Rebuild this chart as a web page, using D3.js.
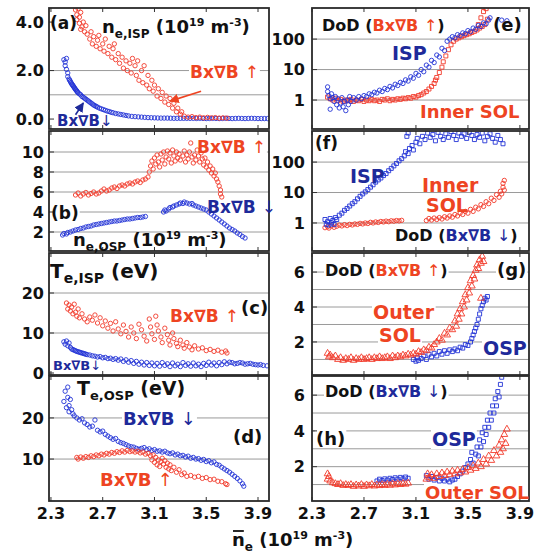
<!DOCTYPE html>
<html><head><meta charset="utf-8">
<script src="https://cdn.jsdelivr.net/npm/d3@7"></script>
<style>body{margin:0;background:#fff}text{font-family:"DejaVu Sans",sans-serif;font-weight:bold}</style>
</head><body><svg id="c" width="545" height="553"></svg>
<script>
// ---------- DATA (ne in 1e19 m^-3, value) ----------
const xTicks = [2.3, 2.7, 3.1, 3.5, 3.9];
const aRed = [[2.49,4.5],[2.50,4.3],[2.51,4.55],[2.50,4.1],[2.52,3.95],[2.53,4.4],[2.52,4.2],[2.54,3.8],[2.55,4.0],[2.53,3.7],[2.56,3.6],[2.57,3.85],
[2.58,3.5],[2.60,3.3],[2.61,3.6],[2.62,3.1],[2.63,3.4],[2.65,3.0],[2.66,3.25],[2.68,2.9],[2.67,3.45],
[2.70,3.1],[2.71,2.8],[2.72,3.3],[2.74,2.7],[2.75,3.0],[2.77,2.55],[2.78,2.9],[2.80,2.45],[2.79,3.1],
[2.82,2.7],[2.83,2.3],[2.85,2.55],[2.86,2.1],[2.88,2.4],[2.89,2.0],[2.91,2.3],[2.92,1.9],[2.93,2.5],
[2.95,2.2],[2.96,1.8],[2.97,2.4],[2.98,1.6],[3.00,2.0],[3.01,1.5],[3.02,2.2],[3.04,1.4],[3.05,1.8],[3.06,1.25],
[3.08,1.6],[3.09,1.15],[3.10,1.4],[3.12,0.95],[3.13,1.25],[3.15,0.85],[3.16,1.1],[3.18,0.7],[3.19,0.95],
[3.21,0.6],[3.22,0.85],[3.24,0.45],[3.25,0.65],[3.27,0.3],[3.28,0.45],[3.30,0.2],[3.31,0.3],
[3.33,0.12],[3.36,0.08],[3.39,0.1],[3.42,0.06],[3.45,0.08],[3.48,0.05],[3.51,0.07],[3.54,0.05],[3.57,0.06],[3.60,0.04],[3.63,0.05],[3.66,0.04]];
const aBlue = [[2.40,2.45],[2.41,2.35],[2.42,2.5],[2.41,2.2],[2.42,2.05],[2.43,1.9],[2.43,1.75],[2.44,1.65],[2.445,1.6],[2.45,1.55],[2.455,1.5],[2.46,1.45],[2.465,1.42],[2.47,1.38],[2.475,1.34],[2.48,1.3],[2.485,1.26],[2.49,1.22],[2.495,1.19],[2.50,1.15],[2.505,1.12],[2.51,1.08],[2.52,1.04],[2.53,1.0],[2.54,0.93],[2.55,0.9],[2.56,0.86],[2.57,0.82],[2.58,0.78],[2.59,0.74],[2.60,0.7],[2.61,0.66],[2.62,0.62],[2.63,0.58],[2.64,0.55],[2.65,0.52],[2.66,0.49],[2.675,0.45],[2.69,0.42],[2.705,0.39],[2.72,0.36],[2.735,0.33],[2.75,0.31],[2.765,0.28],[2.78,0.26],[2.80,0.23],[2.82,0.21],[2.84,0.19],[2.86,0.17],[2.88,0.15],[2.90,0.13],[2.925,0.11],[2.95,0.1],[2.975,0.09],[3.00,0.08],[3.025,0.07],[3.05,0.06],[3.075,0.055],[3.10,0.05],[3.125,0.045],[3.15,0.04],[3.175,0.04],[3.20,0.04],[3.225,0.035],[3.25,0.03],[3.275,0.03],[3.30,0.03],[3.325,0.03],[3.35,0.03],[3.375,0.03],[3.40,0.03],[3.425,0.025],[3.45,0.03],[3.475,0.025],[3.50,0.02],[3.525,0.025],[3.55,0.03],[3.575,0.025],[3.60,0.02],[3.625,0.025],[3.65,0.03],[3.675,0.025],[3.70,0.02],[3.725,0.025],[3.75,0.03],[3.775,0.025],[3.80,0.02],[3.825,0.025],[3.85,0.03],[3.875,0.025],[3.90,0.02],[3.925,0.02],[3.95,0.02],[3.975,0.02]];
const bRed = [[2.49,5.7],[2.51,5.9],[2.53,5.6],[2.55,5.8],[2.57,5.95],[2.59,5.7],[2.61,5.85],[2.63,6.0],[2.65,5.8],[2.67,5.9],[2.69,6.1],[2.71,6.3],[2.73,6.1],[2.75,6.2],[2.77,6.4],[2.79,6.5],[2.81,6.35],[2.83,6.6],[2.85,6.7],[2.87,6.6],[2.89,6.8],[2.91,6.9],[2.93,6.8],[2.95,7.0],[2.97,7.1],[2.99,6.95],[3.01,7.2],[3.03,7.3],[3.05,7.5],
[3.06,8.0],[3.07,8.6],[3.08,9.1],[3.09,8.3],[3.10,9.4],[3.11,8.8],[3.12,9.7],[3.13,9.0],[3.14,8.5],[3.15,9.8],[3.16,9.2],[3.17,10.0],[3.18,8.8],[3.19,9.5],[3.20,10.1],[3.21,9.3],[3.22,9.9],[3.23,8.9],[3.24,10.2],[3.25,9.6],[3.26,9.1],[3.27,10.0],[3.28,9.4],[3.29,9.8],[3.30,9.2],[3.32,9.6],[3.33,10.1],[3.34,9.0],[3.35,9.7],[3.36,9.3],[3.37,10.0],[3.38,10.9],[3.39,9.5],[3.40,8.9],[3.41,9.7],[3.42,9.2],[3.43,10.2],[3.44,9.6],[3.45,9.0],[3.46,9.9],[3.47,9.3],[3.48,8.7],[3.49,9.4],[3.50,8.5],[3.51,9.0],[3.52,8.2],[3.53,8.6],[3.54,7.9],[3.55,8.3],[3.56,7.6],[3.57,7.9],[3.58,7.3],[3.59,7.0],[3.60,6.6],[3.61,6.2],[3.61,5.8],[3.62,5.5]];
const bBlue = [[2.39,1.7],[2.40,1.85],[2.42,1.8],[2.43,1.95],[2.45,2.0],[2.47,2.1],[2.49,2.2],[2.51,2.25],[2.53,2.35],[2.55,2.4],[2.57,2.5],[2.59,2.55],[2.61,2.6],[2.63,2.7],[2.65,2.75],[2.67,2.8],[2.69,2.85],[2.71,2.9],[2.73,2.95],[2.75,3.0],[2.77,3.05],[2.79,3.1],[2.81,3.1],[2.83,3.15],[2.85,3.2],[2.87,3.25],[2.89,3.3],[2.91,3.3],[2.93,3.35],[2.95,3.4],[2.97,3.45],[2.99,3.45],[3.01,3.5],[3.03,3.55],
[3.17,4.0],[3.18,4.2],[3.19,4.1],[3.21,4.3],[3.22,4.45],[3.24,4.5],[3.25,4.6],[3.27,4.7],[3.29,4.8],[3.30,4.9],[3.32,4.85],[3.33,5.0],[3.35,4.9],[3.37,4.8],[3.39,4.85],[3.40,4.7],[3.42,4.6],[3.44,4.5],[3.46,4.4],[3.48,4.3],[3.50,4.2],[3.52,4.0],[3.54,3.8],[3.56,3.6],[3.58,3.4],[3.60,3.2],[3.62,3.0],[3.64,2.8],[3.66,2.6],[3.68,2.4],[3.70,2.25],[3.72,2.1],[3.74,1.9],[3.76,1.75],[3.78,1.55],[3.80,1.4]];
const cRed = [[2.42,17.5],[2.43,16.0],[2.44,17.0],[2.45,15.5],[2.46,16.5],[2.47,14.8],[2.48,17.2],[2.49,15.2],[2.50,14.2],[2.51,16.0],[2.52,13.8],[2.54,14.8],[2.56,13.5],[2.58,12.8],[2.60,14.0],[2.62,13.2],[2.64,14.5],[2.66,12.5],[2.68,13.8],[2.70,11.8],[2.72,13.0],[2.74,11.2],[2.76,12.4],[2.78,10.5],[2.80,12.8],[2.82,11.0],[2.84,9.8],[2.86,12.0],[2.88,10.4],[2.90,9.0],[2.92,11.5],[2.94,10.0],[2.96,8.6],[2.98,12.2],[3.00,10.8],[3.02,9.2],[3.04,8.0],[3.06,13.5],[3.07,11.5],[3.08,9.8],[3.10,8.4],[3.11,14.2],[3.12,12.0],[3.13,10.5],[3.15,9.0],[3.16,7.6],[3.18,11.2],[3.20,9.6],[3.21,8.2],[3.22,7.0],[3.24,10.0],[3.25,8.6],[3.27,7.4],[3.28,6.6],[3.30,8.2],[3.32,7.0],[3.33,6.2],[3.35,7.6],[3.37,6.5],[3.39,5.8],[3.41,6.8],[3.44,6.0],[3.47,6.3],[3.50,5.6],[3.53,5.9],[3.56,5.4],[3.59,5.7],[3.62,5.2],[3.65,5.5],[3.66,5.0]];
const cBlue = [[2.40,7.8],[2.41,7.2],[2.42,8.0],[2.43,6.8],[2.44,7.5],[2.45,6.4],[2.46,6.0],[2.47,5.85],[2.48,5.7],[2.49,5.55],[2.50,5.4],[2.51,5.3],[2.52,5.2],[2.53,5.1],[2.54,5.0],[2.55,4.9],[2.56,4.8],[2.57,4.7],[2.58,4.6],[2.60,4.5],[2.62,4.3],[2.64,4.2],[2.66,4.0],[2.68,4.1],[2.70,3.8],[2.72,3.9],[2.74,3.6],[2.76,3.7],[2.78,3.4],[2.80,3.6],[2.82,3.2],[2.84,3.5],[2.86,2.9],[2.88,3.3],[2.90,2.7],[2.92,3.1],[2.94,2.4],[2.96,2.9],[2.98,2.2],[3.00,2.7],[3.02,2.0],[3.04,2.6],[3.06,1.9],[3.08,2.5],[3.10,1.8],[3.12,2.4],[3.14,1.7],[3.16,2.6],[3.18,1.9],[3.20,2.3],[3.22,1.6],[3.24,2.5],[3.26,1.8],[3.28,2.2],[3.30,1.6],[3.32,2.6],[3.34,1.9],[3.36,2.3],[3.38,1.7],[3.40,2.5],[3.42,1.8],[3.44,2.2],[3.46,1.6],[3.48,2.4],[3.50,1.9],[3.52,2.7],[3.54,2.0],[3.56,2.5],[3.58,1.8],[3.60,2.6],[3.62,2.1],[3.64,2.8],[3.66,2.3],[3.68,2.7],[3.70,2.6],[3.72,2.3],[3.74,2.4],[3.76,2.6],[3.78,2.5],[3.80,2.2],[3.82,2.3],[3.84,2.4],[3.86,2.2],[3.88,2.1],[3.90,2.0],[3.92,2.1],[3.94,1.9],[3.97,1.8]];
const dBlue = [[2.40,24.0],[2.41,26.5],[2.42,22.5],[2.43,27.5],[2.43,25.0],[2.44,23.0],[2.44,21.5],[2.45,24.5],[2.46,22.0],[2.47,21.0],[2.48,20.5],[2.50,20.0],[2.52,19.5],[2.54,19.8],[2.56,18.8],[2.58,18.4],[2.60,17.8],[2.62,18.0],[2.64,19.5],[2.66,17.0],[2.68,16.6],[2.70,16.8],[2.72,16.0],[2.74,15.6],[2.76,15.2],[2.78,14.8],[2.80,15.0],[2.82,14.3],[2.84,14.0],[2.86,13.8],[2.88,13.5],[2.90,13.2],[2.92,13.0],[2.94,12.9],[2.96,12.6],[2.98,12.4],
[3.00,12.6],[3.02,12.8],[3.04,12.3],[3.06,12.5],[3.08,12.1],[3.10,12.3],[3.12,11.9],[3.14,12.0],[3.16,11.7],[3.18,11.9],[3.20,11.5],[3.22,11.3],[3.24,11.5],[3.26,11.0],[3.28,11.2],[3.30,10.8],[3.32,10.9],[3.34,10.5],[3.36,10.7],[3.38,10.2],[3.40,10.4],[3.42,10.0],[3.44,10.1],[3.46,9.7],[3.48,9.9],[3.50,9.4],[3.52,9.6],[3.54,9.1],[3.56,9.3],[3.58,8.7],[3.60,8.5],[3.62,8.0],[3.64,7.6],[3.66,7.2],[3.68,6.8],[3.70,6.3],[3.72,5.8],[3.74,5.3],[3.76,4.7],[3.78,4.0],[3.79,3.4]];
const dRed = [[2.50,10.4],[2.51,10.0],[2.53,10.5],[2.55,10.2],[2.57,10.6],[2.59,10.4],[2.61,10.8],[2.63,10.6],[2.65,11.0],[2.67,10.8],[2.69,11.2],[2.71,11.0],[2.73,11.4],[2.75,11.2],[2.77,11.6],[2.79,11.4],[2.81,11.8],[2.83,11.6],[2.85,12.0],[2.87,11.7],[2.89,12.1],[2.91,11.8],[2.93,12.0],[2.95,11.7],[2.97,11.9],[2.99,11.5],[3.01,11.7],[3.03,11.2],[3.05,11.4],[3.07,10.8],[3.08,9.8],[3.09,11.0],[3.10,9.2],[3.11,10.4],[3.12,8.6],[3.13,9.8],[3.14,8.2],[3.15,9.4],[3.16,10.2],[3.17,8.8],[3.18,9.6],[3.19,8.0],[3.20,9.0],[3.21,7.6],[3.22,8.6],[3.23,7.2],[3.25,8.0],[3.27,6.8],[3.29,7.4],[3.31,6.2],[3.33,6.6],[3.35,5.8],[3.38,6.0],[3.41,5.6],[3.44,5.8],[3.47,5.3],[3.50,5.5],[3.53,5.0],[3.56,5.1],[3.59,4.6],[3.62,4.5],[3.65,4.0],[3.66,3.8]];
const eBlue = [[2.42,2.7],[2.42,1.9],[2.43,1.4],[2.44,0.5],[2.44,1.1],[2.45,1.6],[2.46,1.2],[2.47,0.9],[2.48,1.3],[2.49,0.7],[2.50,1.1],[2.51,0.55],[2.52,0.8],[2.53,1.2],[2.54,0.6],[2.55,0.9],[2.56,0.45],[2.57,1.0],[2.58,0.7],[2.59,1.3],[2.60,0.9],[2.62,1.2],[2.64,1.0],[2.66,1.3],[2.68,1.1],[2.70,1.4],[2.72,1.3],[2.74,1.6],[2.76,1.5],[2.78,1.8],[2.80,1.7],[2.82,2.1],[2.84,1.9],[2.86,2.4],[2.88,2.2],[2.90,2.8],[2.92,2.5],[2.94,3.3],[2.96,3.0],[2.98,3.8],[3.00,3.5],[3.02,4.6],[3.04,4.2],[3.06,5.8],[3.08,5.2],[3.10,7.5],[3.12,6.5],[3.14,10],[3.16,8.5],[3.18,14],[3.20,12],[3.22,20],[3.24,17],[3.26,30],[3.28,26],[3.30,50],[3.32,42],[3.34,85],[3.36,100],[3.38,120],[3.40,110],[3.42,140],[3.44,130],[3.46,160],[3.48,150],[3.50,190],[3.52,175],[3.54,230],[3.56,210],[3.58,280],[3.60,260],[3.62,340],[3.64,320],[3.66,420],[3.67,500],[3.76,420],[3.80,400]];
const eRed = [[2.42,1.25],[2.44,1.1],[2.46,1.0],[2.48,1.15],[2.50,0.95],[2.52,1.05],[2.54,0.9],[2.56,1.0],[2.58,0.95],[2.60,1.05],[2.62,0.9],[2.64,1.0],[2.66,0.95],[2.68,1.05],[2.70,0.9],[2.72,1.0],[2.74,0.95],[2.76,1.05],[2.78,0.95],[2.80,1.0],[2.82,0.9],[2.84,1.05],[2.86,1.0],[2.88,1.1],[2.90,0.95],[2.92,1.05],[2.94,1.0],[2.96,1.1],[2.98,1.05],[3.00,1.15],[3.02,1.1],[3.04,1.2],[3.06,1.15],[3.08,1.3],[3.10,1.25],[3.12,1.4],[3.14,1.5],[3.16,1.7],[3.18,1.9],[3.20,2.3],[3.22,2.8],[3.24,3.5],[3.25,4.5],[3.26,5.5],[3.28,8],[3.30,12],[3.31,18],[3.33,28],[3.35,45],[3.37,65],[3.39,85],[3.41,100],[3.43,110],[3.45,120],[3.47,130],[3.49,140],[3.51,150],[3.53,165],[3.55,180],[3.57,200],[3.58,300],[3.59,230],[3.60,500],[3.61,260],[3.62,800],[3.63,300],[3.64,1000],[3.65,450]];
const fBlue = [[2.40,1.3],[2.41,0.9],[2.42,1.1],[2.43,0.85],[2.44,1.4],[2.45,1.0],[2.46,1.2],[2.47,0.9],[2.48,1.5],[2.49,1.3],[2.51,1.8],[2.53,2.1],[2.55,2.6],[2.57,3.0],[2.59,3.6],[2.61,4.3],[2.63,5.0],[2.65,6.2],[2.67,7.5],[2.69,9.0],[2.71,10.5],[2.73,12.5],[2.75,15],[2.77,18],[2.79,22],[2.81,26],[2.83,30],[2.85,36],[2.87,42],[2.89,52],[2.91,62],[2.93,75],[2.95,90],[2.97,110],[2.99,130],[3.01,160],[3.02,220],[3.03,700],[3.04,900],[3.04,190],[3.05,280],[3.07,350],[3.08,250],[3.10,450],[3.11,600],[3.13,400],[3.15,700],[3.17,550],[3.19,900],[3.21,650],[3.23,800],[3.25,500],[3.27,950],[3.29,700],[3.31,550],[3.33,850],[3.35,650],[3.37,1000],[3.39,750],[3.41,550],[3.43,900],[3.45,700],[3.47,850],[3.49,600],[3.51,950],[3.53,750],[3.55,550],[3.57,800],[3.59,650],[3.61,900],[3.63,500],[3.65,700],[3.67,850],[3.69,600],[3.71,450],[3.73,750],[3.75,550],[3.77,400]];
const fRed = [[2.40,0.7],[2.42,0.75],[2.43,0.68],[2.45,0.8],[2.47,0.72],[2.49,0.78],[2.51,0.85],[2.53,0.8],[2.55,0.88],[2.57,0.82],[2.59,0.9],[2.61,0.86],[2.63,0.93],[2.65,0.9],[2.67,0.97],[2.69,0.93],[2.71,1.0],[2.73,0.96],[2.75,1.05],[2.77,1.0],[2.79,1.08],[2.81,1.04],[2.83,1.12],[2.85,1.08],[2.87,1.15],[2.89,1.1],[2.91,1.18],[2.93,1.14],[2.95,1.2],[2.97,1.17],[2.99,1.22],
[3.18,1.2],[3.20,1.4],[3.22,1.25],[3.24,1.45],[3.26,1.3],[3.28,1.5],[3.30,1.35],[3.32,1.6],[3.34,1.45],[3.36,1.7],[3.38,1.55],[3.40,1.9],[3.42,1.7],[3.44,2.1],[3.46,1.9],[3.48,2.4],[3.50,2.1],[3.52,2.8],[3.54,2.4],[3.56,3.3],[3.58,2.9],[3.60,4.0],[3.62,3.5],[3.64,5.0],[3.66,4.3],[3.68,6.5],[3.70,5.5],[3.72,8.5],[3.74,7.0],[3.75,11],[3.76,9],[3.77,15],[3.77,20],[3.78,12],[3.78,25]];
const gRed = [[2.42,1.35],[2.43,1.15],[2.44,1.25],[2.46,1.1],[2.48,1.2],[2.50,1.0],[2.52,1.1],[2.54,0.95],[2.56,1.05],[2.58,1.0],[2.60,1.1],[2.62,0.95],[2.64,1.05],[2.66,1.0],[2.68,1.1],[2.70,1.0],[2.72,1.05],[2.74,1.1],[2.76,1.0],[2.78,1.1],[2.80,1.05],[2.82,1.15],[2.84,1.05],[2.86,1.1],[2.88,1.15],[2.90,1.05],[2.92,1.2],[2.94,1.1],[2.96,1.2],[2.98,1.15],[3.00,1.25],[3.02,1.2],[3.04,1.3],[3.06,1.25],[3.08,1.35],[3.10,1.3],[3.12,1.45],[3.14,1.4],[3.16,1.55],[3.18,1.5],[3.20,1.7],[3.22,1.65],[3.24,1.85],[3.26,2.0],[3.28,2.2],[3.30,2.1],[3.32,2.5],[3.34,2.4],[3.36,2.8],[3.38,2.7],[3.40,3.2],[3.41,2.9],[3.42,3.6],[3.43,3.3],[3.44,3.9],[3.45,3.6],[3.46,4.3],[3.47,4.0],[3.48,4.7],[3.49,4.4],[3.50,5.1],[3.51,4.8],[3.52,5.5],[3.53,5.2],[3.54,5.8],[3.55,5.6],[3.56,6.1],[3.57,6.4],[3.58,6.2],[3.59,6.7],[3.60,6.5],[3.61,6.9],[3.62,6.6],[3.60,4.5]];
const gBlue = [[3.08,1.0],[3.10,0.9],[3.11,1.1],[3.12,0.95],[3.14,1.05],[3.16,1.2],[3.18,1.0],[3.20,1.3],[3.22,1.15],[3.24,1.35],[3.26,1.2],[3.28,1.45],[3.30,1.3],[3.32,1.5],[3.34,1.35],[3.36,1.55],[3.38,1.45],[3.40,1.6],[3.42,1.5],[3.44,1.7],[3.46,1.65],[3.48,1.85],[3.50,1.8],[3.52,2.0],[3.53,2.2],[3.54,2.4],[3.55,2.6],[3.56,2.8],[3.57,3.0],[3.58,3.3],[3.59,3.6],[3.60,3.9],[3.61,4.1],[3.62,4.3],[3.63,4.5],[3.64,4.4],[3.65,4.6]];
const hRed = [[2.42,1.6],[2.42,1.3],[2.43,1.45],[2.44,1.2],[2.46,1.1],[2.48,1.05],[2.50,1.0],[2.52,1.05],[2.54,0.95],[2.56,1.0],[2.58,0.95],[2.60,1.0],[2.62,0.9],[2.64,0.98],[2.66,0.92],[2.68,1.0],[2.70,0.9],[2.72,0.98],[2.74,0.93],[2.76,1.0],[2.78,0.92],[2.80,0.98],[2.82,0.94],[2.84,1.0],[2.86,0.95],[2.88,1.02],[2.90,0.96],[2.92,1.04],[2.94,0.98],[2.96,1.05],[2.98,1.0],[3.00,1.06],[3.02,1.02],[3.04,1.08],
[3.18,1.3],[3.19,1.6],[3.20,1.4],[3.22,1.55],[3.24,1.35],[3.26,1.6],[3.28,1.45],[3.30,1.65],[3.32,1.5],[3.34,1.7],[3.36,1.55],[3.38,1.75],[3.40,1.6],[3.42,1.8],[3.44,1.65],[3.46,1.85],[3.48,1.7],[3.50,1.95],[3.52,1.8],[3.54,2.05],[3.56,1.9],[3.58,2.2],[3.60,2.0],[3.62,2.4],[3.64,2.15],[3.66,2.6],[3.68,2.35],[3.70,2.9],[3.72,2.6],[3.74,3.2],[3.75,2.8],[3.76,3.5],[3.77,3.0],[3.78,3.8],[3.79,3.3],[3.80,4.1]];
const hBlue = [[2.80,1.2],[2.82,1.3],[2.84,1.22],[2.86,1.32],[2.88,1.25],[2.90,1.35],[2.92,1.28],[2.94,1.38],[2.96,1.3],[2.98,1.4],[3.00,1.32],[3.02,1.42],[3.04,1.35],
[3.18,1.5],[3.20,1.3],[3.22,1.45],[3.24,1.25],[3.26,1.4],[3.28,1.2],[3.30,1.35],[3.32,1.2],[3.34,1.3],[3.36,1.15],[3.38,1.25],[3.40,1.3],[3.42,1.45],[3.44,1.6],[3.46,1.75],[3.48,1.95],[3.50,2.15],[3.52,2.4],[3.53,2.8],[3.54,2.2],[3.56,2.7],[3.57,3.1],[3.58,2.6],[3.59,3.5],[3.60,3.1],[3.61,3.9],[3.62,3.4],[3.63,4.2],[3.64,3.8],[3.65,4.6],[3.66,4.2],[3.67,5.0],[3.68,4.6],[3.69,5.4],[3.70,5.0],[3.71,5.8],[3.72,5.4],[3.73,6.2],[3.74,5.9],[3.75,6.6],[3.76,7.0]];

// ---------- STYLE ----------
const RED = "#f23a2a", BLUE = "#2233d6", TRED = "#ee4422", TBLUE = "#1e2a9a", INK = "#111";
const svg = d3.select("#c");
const xL = d3.scaleLinear().domain([2.285, 3.985]).range([49, 269]);
const xR = d3.scaleLinear().domain([2.3, 3.97]).range([312, 529]);
const rows = [[8,129],[131,251],[253,375],[376,501]];

const panels = [
 {id:"a", x:xL, row:0, log:false, dom:[-0.41,4.58], ticks:[0,2,4], fmt:d3.format(".1f"), grid:[1,2], series:[[aBlue,BLUE,"c"],[aRed,RED,"c"]]},
 {id:"b", x:xL, row:1, log:false, dom:[0.1,12.1], ticks:[2,4,6,8,10], fmt:d3.format("d"), grid:[2,4,6,8,10], series:[[bRed,RED,"c"],[bBlue,BLUE,"c"]]},
 {id:"c", x:xL, row:2, log:false, dom:[-0.5,30], ticks:[0,10,20], fmt:d3.format("d"), grid:[10,20], series:[[cRed,RED,"c"],[cBlue,BLUE,"c"]]},
 {id:"d", x:xL, row:3, log:false, dom:[-0.2,30.2], ticks:[10,20], fmt:d3.format("d"), grid:[10,20], series:[[dBlue,BLUE,"c"],[dRed,RED,"c"]]},
 {id:"e", x:xR, row:0, log:true, dom:[0.112,1050], ticks:[1,10,100], fmt:d3.format("d"), grid:[1,10,100], series:[[eRed,RED,"s"],[eBlue,BLUE,"c"]]},
 {id:"f", x:xR, row:1, log:true, dom:[0.12,1050], ticks:[1,10,100], fmt:d3.format("d"), grid:[1,10,100], series:[[fRed,RED,"c"],[fBlue,BLUE,"s"]]},
 {id:"g", x:xR, row:2, log:false, dom:[0.11,7.09], ticks:[2,4,6], fmt:d3.format("d"), grid:[1,2,3,4,5,6], series:[[gBlue,BLUE,"s"],[gRed,RED,"t"]]},
 {id:"h", x:xR, row:3, log:false, dom:[0.08,7.07], ticks:[2,4,6], fmt:d3.format("d"), grid:[1,2,3,4,5,6], series:[[hBlue,BLUE,"s"],[hRed,RED,"t"]]}
];

const defs = svg.append("defs");
const gGrid = svg.append("g"), gBg = svg.append("g"), gPts = svg.append("g"), gFrame = svg.append("g"), gTxt = svg.append("g");
const Y = {};
panels.forEach(p => {
  const [x0, x1] = p.x.range(), [y0, y1] = rows[p.row];
  const y = (p.log ? d3.scaleLog() : d3.scaleLinear()).domain(p.dom).range([y1, y0]);
  Y[p.id] = y;
  defs.append("clipPath").attr("id", "cl" + p.id).append("rect").attr("x", x0).attr("y", y0).attr("width", x1 - x0).attr("height", y1 - y0);
  gGrid.selectAll(null).data(p.grid).join("line")
    .attr("x1", x0).attr("x2", x1).attr("y1", d => y(d)).attr("y2", d => y(d))
    .attr("stroke", "#9a9a9a").attr("stroke-width", 1);
  const tx = p.x === xL ? 44 : 305;
  gTxt.selectAll(null).data(p.ticks).join("text")
    .attr("x", tx).attr("y", d => y(d)).attr("dy", "0.36em").attr("text-anchor", "end")
    .attr("font-size", 16).attr("fill", INK).text(d => p.fmt(d));
  gFrame.selectAll(null).data(p.ticks).join("line")
    .attr("x1", x0).attr("x2", x0 + 5).attr("y1", d => y(d)).attr("y2", d => y(d)).attr("stroke", "#333");
  gFrame.selectAll(null).data(xTicks).join("line")
    .attr("x1", d => p.x(d)).attr("x2", d => p.x(d)).attr("y1", y1).attr("y2", y1 - 4).attr("stroke", "#333");
  gFrame.selectAll(null).data(xTicks).join("line")
    .attr("x1", d => p.x(d)).attr("x2", d => p.x(d)).attr("y1", y0).attr("y2", y0 + 4).attr("stroke", "#333");
  const gp = gPts.append("g").attr("clip-path", `url(#cl${p.id})`);
  p.series.forEach(([data, col, shape]) => {
    const sym = shape === "c" ? d3.symbolCircle : shape === "s" ? d3.symbolSquare : d3.symbolTriangle;
    const size = shape === "c" ? 15 : shape === "s" ? 16 : 20;
    gp.selectAll(null).data(data).join("path")
      .attr("d", d3.symbol(sym, size))
      .attr("transform", d => `translate(${p.x(d[0])},${y(d[1])})`)
      .attr("fill", "none").attr("stroke", col).attr("stroke-width", 0.9);
  });
  gFrame.append("rect").attr("x", x0).attr("y", y0).attr("width", x1 - x0).attr("height", y1 - y0)
    .attr("fill", "none").attr("stroke", "#2a2a2a").attr("stroke-width", 1.8);
});

[xL, xR].forEach(x => {
  gTxt.selectAll(null).data(xTicks).join("text")
    .attr("x", d => x(d)).attr("y", 519).attr("text-anchor", "middle")
    .attr("font-size", 16).attr("fill", INK).text(d => d3.format(".1f")(d));
});

function label(x, y, parts, bg = true) {
  const t = gTxt.append("text").attr("x", x).attr("y", y);
  parts.forEach(([s, c, fs, dy, w]) => {
    const ts = t.append("tspan").text(s).attr("fill", c).attr("font-size", fs);
    if (dy) ts.attr("dy", dy);
    if (w) ts.attr("font-weight", w);
  });
  if (bg) {
    const b = t.node().getBBox();
    gBg.append("rect").attr("x", b.x - 1).attr("y", b.y + 2).attr("width", b.width + 2).attr("height", b.height - 3).attr("fill", "#fff");
  }
  return t;
}
const up = "\u2191", dn = "\u2193", BB = "Bx\u2207B";
// (a)
label(50, 29, [["(a)", INK, 17]]);
label(102, 33, [["n", INK, 18], ["e,ISP", INK, 12, 5], [" (10", INK, 18, -5], ["19", INK, 11, -7], [" m", INK, 18, 7], ["-3", INK, 11, -7], [")", INK, 18, 7]]);
label(190, 78, [[BB + " ", TRED, 17], [up, TRED, 17, 0, "normal"]]);
label(57, 126, [[BB, TBLUE, 15], [dn, TBLUE, 15, 0, "normal"]]);
// (b)
label(51, 219, [["(b)", INK, 17]]);
label(73, 246, [["n", INK, 18], ["e,OSP", INK, 12, 5], [" (10", INK, 18, -5], ["19", INK, 11, -7], [" m", INK, 18, 7], ["-3", INK, 11, -7], [")", INK, 18, 7]], false);
label(197, 153, [[BB + " ", TRED, 17], [up, TRED, 17, 0, "normal"]]);
label(207, 213, [[BB + " ", TBLUE, 17], [dn, TBLUE, 17, 0, "normal"]]);
// (c)
label(50, 278, [["T", INK, 20], ["e,ISP", INK, 14, 5], [" (eV)", INK, 20, -5]]);
label(170, 322, [[BB + " ", TRED, 17], [up, TRED, 17, 0, "normal"]]);
label(241, 314, [["(c)", INK, 18]]);
label(53, 370, [[BB, TBLUE, 13], [dn, TBLUE, 13, 0, "normal"]]);
// (d)
label(77, 395, [["T", INK, 19], ["e,OSP", INK, 13, 5], [" (eV)", INK, 19, -5]]);
label(123, 425, [[BB + " ", TBLUE, 18], [dn, TBLUE, 18, 0, "normal"]]);
label(233, 443, [["(d)", INK, 18]]);
label(100, 486, [[BB + " ", TRED, 18], [up, TRED, 18, 0, "normal"]]);
// (e)
label(322, 31, [["DoD (", INK, 16], [BB + " ", TRED, 16], [up, TRED, 16, 0, "normal"], [")", INK, 16]]);
label(493, 31, [["(e)", INK, 18]]);
label(392, 60, [["ISP", TBLUE, 19]], false);
label(420, 118, [["Inner SOL", TRED, 18]]);
// (f)
label(315, 149, [["(f)", INK, 17]]);
label(350, 183, [["ISP", TBLUE, 19]], false);
label(422, 192, [["Inner", TRED, 19]], false);
label(426, 212, [["SOL", TRED, 19]], false);
label(395, 241, [["DoD (", INK, 16], [BB + " ", TBLUE, 16], [dn, TBLUE, 16, 0, "normal"], [")", INK, 16]]);
// (g)
label(325, 276, [["DoD (", INK, 16], [BB + " ", TRED, 16], [up, TRED, 16, 0, "normal"], [")", INK, 16]]);
label(497, 276, [["(g)", INK, 18]]);
label(373, 319, [["Outer", TRED, 19]]);
label(379, 342, [["SOL", TRED, 19]]);
label(483, 355, [["OSP", TBLUE, 19]]);
// (h)
label(325, 397, [["DoD (", INK, 16], [BB + " ", TBLUE, 16], [dn, TBLUE, 16, 0, "normal"], [")", INK, 16]]);
label(316, 445, [["(h)", INK, 18]]);
label(432, 446, [["OSP", TBLUE, 19]]);
label(425, 499, [["Outer SOL", TRED, 18]]);

defs.append("marker").attr("id", "arR").attr("viewBox", "0 0 10 10").attr("refX", 9).attr("refY", 5)
  .attr("markerWidth", 6).attr("markerHeight", 6).attr("orient", "auto")
  .append("path").attr("d", "M0,0L10,5L0,10z").attr("fill", TRED);
defs.append("marker").attr("id", "arB").attr("viewBox", "0 0 10 10").attr("refX", 9).attr("refY", 5)
  .attr("markerWidth", 6).attr("markerHeight", 6).attr("orient", "auto")
  .append("path").attr("d", "M0,0L10,5L0,10z").attr("fill", TBLUE);
const ya = Y.a;
gTxt.append("line").attr("x1", xL(3.46)).attr("y1", ya(1.15)).attr("x2", xL(3.22)).attr("y2", ya(0.74))
  .attr("stroke", TRED).attr("stroke-width", 1.6).attr("marker-end", "url(#arR)");
gTxt.append("line").attr("x1", xL(2.49)).attr("y1", ya(0.18)).attr("x2", xL(2.55)).attr("y2", ya(0.66))
  .attr("stroke", TBLUE).attr("stroke-width", 1.6).attr("marker-end", "url(#arB)");

const xt = label(232, 546, [["n", INK, 18], ["e", INK, 12, 5], [" (10", INK, 18, -5], ["19", INK, 11, -7], [" m", INK, 18, 7], ["-3", INK, 11, -7], [")", INK, 18, 7]], false);
const ext = xt.node().getExtentOfChar(0);
gTxt.append("line").attr("x1", ext.x + 1).attr("x2", ext.x + ext.width - 1).attr("y1", 531).attr("y2", 531)
  .attr("stroke", INK).attr("stroke-width", 1.8);
</script></body></html>
